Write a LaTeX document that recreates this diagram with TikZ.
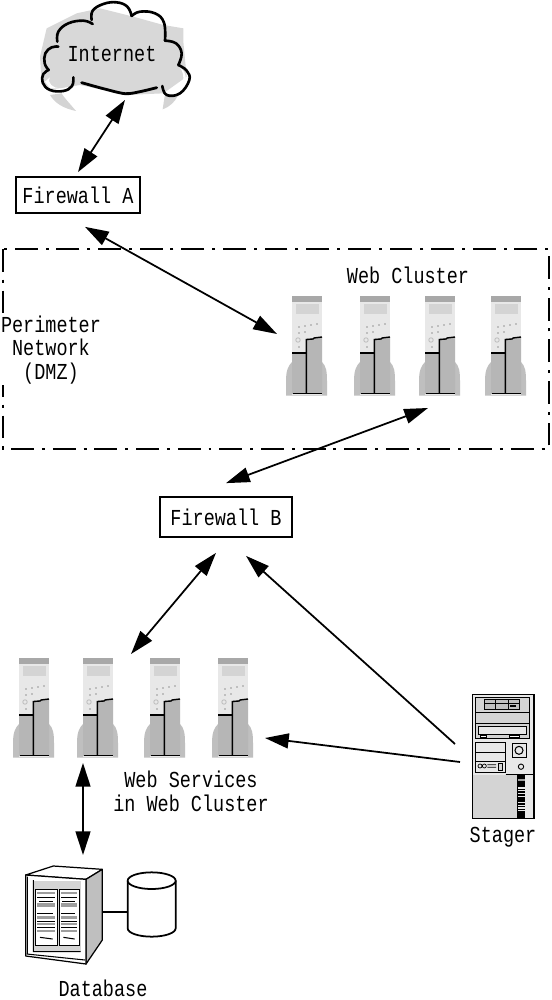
\documentclass[tikz,border=0pt]{standalone}
\usepackage{fontspec}
\setmainfont[FakeStretch=0.81]{Liberation Mono}
\usetikzlibrary{arrows.meta,calc}
\definecolor{gA}{gray}{0.83}
\definecolor{gB}{gray}{0.75}
\definecolor{gC}{gray}{0.91}
\definecolor{gD}{gray}{0.62}
\tikzset{
  txt/.style={font=\fontsize{13}{13.6}\selectfont,align=center,inner sep=0pt,text=black},
  fwbox/.style={draw=black,line width=1pt,fill=white,inner sep=0pt,font=\fontsize{13}{13.6}\selectfont},
  ghost/.style={inner sep=0pt,outer sep=0pt},
  link/.style={line width=1pt,{Triangle[length=13.5pt,width=8.5pt]}-{Triangle[length=13.5pt,width=8.5pt]}},
  onelink/.style={line width=1pt,-{Triangle[length=13.5pt,width=8.5pt]}},
  ink/.style={line width=1.5pt,line cap=round,line join=round},
  serverpic/.pic={
    \fill[gB] (0,99.5) -- (0,85) .. controls (0,75) and (2,70) .. (6,66) -- (36,66)
       .. controls (40,70) and (41,75) .. (41,85) -- (41,99.5) -- cycle;
    \fill[gC] (6,0) rectangle (36,99);
    \fill[gD!70!gB] (6,0) rectangle (36,6);
    \fill[gA] (10,8) rectangle (33,18);
    \foreach \a/\b in {12/30,18/29,24/28,30/27,12/36,18/35,12/50}
      \fill[gB] (\a,\b) rectangle +(2.4,2);
    \draw[gB,line width=.5pt] (12,44) circle (2.2);
    \fill[gB!95!black] (6,57) rectangle (20,97.5);
    \fill[gB!95!black] (21,43) -- (36,41) -- (36,97.5) -- (21,97.5) -- cycle;
    \draw[black,line width=.8pt] (6,57) -- (20.3,57);
    \draw[black,line width=.8pt] (20.3,97.5) -- (20.3,43.5) -- (27,43) -- (28,42) -- (36,41);
    \draw[black,line width=1pt] (7,97.5) -- (35.5,97.5);
  }
}
\begin{document}
\begin{tikzpicture}[x=0.02cm,y=-0.02cm]
\useasboundingbox (0,0) rectangle (551,1000);
\fill[white] (0,0) rectangle (551,1000);

% DMZ border
\draw[black,line width=.95pt,dash pattern=on 13pt off 4.5pt on 1.7pt off 4.5pt] (3,249) rectangle (549,449);

% Cloud, drawn at 1/3 scale of the reference
\begin{scope}[scale=1/3]
  \fill[gA!90!white] (120,170) -- (140,85) -- (230,40) -- (300,25) -- (400,50) -- (490,75) -- (550,85) -- (550,125) -- (560,230) -- (490,280) -- (380,285) -- (240,255) -- (150,270) -- (125,250) -- cycle;
  \fill[gA] (150,285) .. controls (165,310) and (190,325) .. (228,333) .. controls (200,300) and (190,290) .. (185,280) -- cycle;
  \fill[gA] (488,328) .. controls (510,320) and (525,305) .. (533,288) -- (495,282) -- cycle;
  \fill[white] (150,232) .. controls (140,250) and (160,265) .. (180,265) -- (150,265) -- (135,245) -- cycle;
  \fill[white] (535,198) .. controls (555,215) and (555,250) .. (535,272) .. controls (560,260) and (570,220) .. (535,198) -- cycle;
  \draw[ink] plot[smooth,tension=.7] coordinates {(220,232) (216,258) (190,273) (150,270) (128,248) (130,222) (146,210)};
  \draw[ink] plot[smooth,tension=.7] coordinates {(146,210) (134,190) (136,160) (155,142) (175,140)};
  \draw[ink] plot[smooth,tension=.7] coordinates {(172,125) (175,95) (205,70) (250,62) (278,72)};
  \draw[ink] plot[smooth,tension=.7] coordinates {(275,60) (278,32) (310,12) (350,7) (382,20) (395,48)};
  \draw[ink] plot[smooth,tension=.7] coordinates {(395,48) (420,35) (465,40) (492,68) (495,122)};
  \draw[ink] plot[smooth,tension=.7] coordinates {(495,122) (528,130) (545,160) (535,195)};
  \draw[ink] plot[smooth,tension=.7] coordinates {(535,195) (560,212) (568,240) (540,280) (500,285) (487,258)};
  \draw[black,line cap=round,line width=1.6pt] plot[smooth,tension=.5] coordinates {(245,248) (310,266) (375,281) (420,275) (470,263)};
\end{scope}
\node[ghost,minimum width=2.6cm,minimum height=2cm] (cloud) at (125,50) {};
\node[txt] (inetlabel) at (112,54) {Internet};

% Firewalls
\node[fwbox,minimum width=2.48cm,minimum height=.72cm] (fwa) at (78,195) {Firewall A};
\node[fwbox,minimum width=2.64cm,minimum height=.8cm] (fwb) at (226,517) {Firewall B};

% Labels
\node[txt] (weblabel) at (408,275) {Web Cluster};
\node[txt,fill=white] (dmz) at (51,350) {Perimeter\\Network\\(DMZ)};
\node[txt] (wslabel) at (191,791) {Web Services\\in Web Cluster};
\node[txt] (stagerlabel) at (503,837) {Stager};
\node[txt] (dblabel) at (103,988) {Database};

% Web cluster servers
\foreach \n/\x in {web1/286,web2/354,web3/419,web4/485}{
  \pic at (\x,296) {serverpic};
  \node[ghost,minimum width=.82cm,minimum height=1.98cm] (\n) at (\x+20.5,345.5) {};
}
% Web service servers
\foreach \n/\x in {ws1/13,ws2/77,ws3/144,ws4/212}{
  \pic at (\x,658) {serverpic};
  \node[ghost,minimum width=.82cm,minimum height=1.98cm] (\n) at (\x+20.5,707.5) {};
}

% Stager
\begin{scope}[shift={(440,680)},scale=1/3]
  \draw[black,line width=.8pt,fill=gC] (97,43) rectangle (282,415);
  \draw[black,line width=.5pt,fill=gA] (107,52) rectangle (268,175);
  \fill[gB] (134,57) rectangle (238,87);
  \draw[black,line width=.5pt] (134,57) rectangle (238,87) (134,70) -- (238,70) (166,57) -- (166,87) (205,57) -- (205,87);
  \fill[black] (210,75) rectangle (228,80);
  \draw[black,line width=.4pt] (107,97) -- (268,97) (107,130) -- (268,130);
  \draw[black,line width=.5pt,fill=gC] (115,140) rectangle (260,162);
  \draw[black,line width=.4pt,fill=white] (122,167) rectangle (140,173) (207,167) rectangle (238,173);
  \draw[black,line width=.5pt,fill=gC] (107,188) rectangle (197,277);
  \draw[black,line width=.4pt] (107,218) -- (197,218) (107,245) -- (197,245);
  \draw[black,line width=.4pt] (120,258) circle (6) (133,258) circle (6) (142,254) -- (168,254) (142,262) -- (168,262);
  \draw[black,line width=.4pt,fill=gA] (175,250) rectangle (188,272);
  \draw[black,line width=.5pt,fill=gC] (218,190) rectangle (258,232);
  \draw[black,line width=.6pt] (237,211) circle (12);
  \draw[black,line width=.5pt] (243,260) circle (8);
  \draw[black,line width=.5pt] (197,283) -- (282,283);
  \fill[gA] (99,285) rectangle (232,413);
  \fill[black] (232,284) rectangle (256,414);
  \foreach \y in {322,330,338,347,366,374,382,390}
    \fill[gC] (234,\y) rectangle (254,\y+4);
  \fill[gD] (234,296) rectangle (254,304);
\end{scope}
\node[ghost,minimum width=1.24cm,minimum height=2.48cm] (stager) at (503,756) {};

% Database
\begin{scope}[shift={(10,850)},scale=1/3]
  \draw[black,line width=.7pt,fill=white,line join=round] (47,75) -- (130,48) -- (277,58) -- (228,88) -- cycle;
  \draw[black,line width=.7pt,fill=gB,line join=round] (228,88) -- (277,58) -- (277,270) -- (228,342) -- cycle;
  \draw[black,line width=.7pt,fill=white,line join=round] (47,75) -- (228,88) -- (228,342) -- (47,318) -- cycle;
  \fill[gA] (72,92) rectangle (212,305);
  \draw[black,line width=.6pt] (70,90) -- (70,305) -- (212,305) (52,80) -- (52,312) (50,312) -- (225,330);
  \draw[black,line width=.5pt,fill=white] (76,118) rectangle (143,285);
  \draw[black,line width=.5pt,fill=white] (147,118) rectangle (207,285);
  \foreach \x/\w in {82/52,152/48}{
    \fill[gD] (\x,125) rectangle +(\w,8);
    \fill[black] (\x,140) rectangle +(\w,3);
    \fill[black] (\x+5,152) rectangle +(\w-10,3);
    \fill[gD] (\x,160) rectangle +(\w,10);
    \fill[black] (\x,190) rectangle +(\w-6,3);
    \fill[gD] (\x,197) rectangle +(\w,10);
    \fill[black] (\x,212) rectangle +(\w,3);
    \fill[gD] (\x,220) rectangle +(\w,6);
    \fill[black] (\x,232) rectangle +(\w,3);
    \fill[gD] (\x,240) rectangle +(\w,6);
    \draw[black,line width=.6pt] (\x+8,262) -- (\x+\w-6,267);
  }
  % cylinder
  \draw[black,line width=1pt,fill=white] (353,92) -- (353,235) arc[start angle=180,end angle=360,x radius=72,y radius=-25] -- (497,92);
  \draw[black,line width=1pt,fill=white] (425,92) ellipse (72 and 25);
\end{scope}
\node[ghost,minimum width=1.52cm,minimum height=1.84cm] (db) at (64,912) {};
\node[ghost,minimum width=.96cm,minimum height=1.3cm] (cyl) at (152,904) {};

% Connectors
\draw[link] (cloud.south) -- ([shift={(0,-4)}]fwa.north);
\draw[link] ([shift={(7,13)}]fwa.south) -- ([shift={(-9,-11.5)}]web1.west);
\draw[link] ([shift={(-11.5,13)}]web3.south) -- ([shift={(0,-13)}]fwb.north);
\draw[link] ([shift={(-10,15)}]fwb.south) -- ([shift={(33.5,-4)}]ws2.north);
\draw[onelink] ([shift={(-17,-12)}]stager.west) -- ([shift={(20,18)}]fwb.south);
\draw[onelink] ([shift={(-12,6)}]stager.west) -- ([shift={(12,30.5)}]ws4.east);
\draw[link] ([shift={(-14.5,6)}]ws2.south) -- ([shift={(19,-11)}]db.north);
\draw[black,line width=1pt] (db.east) -- (db.east -| cyl.west);
\end{tikzpicture}
\end{document}
